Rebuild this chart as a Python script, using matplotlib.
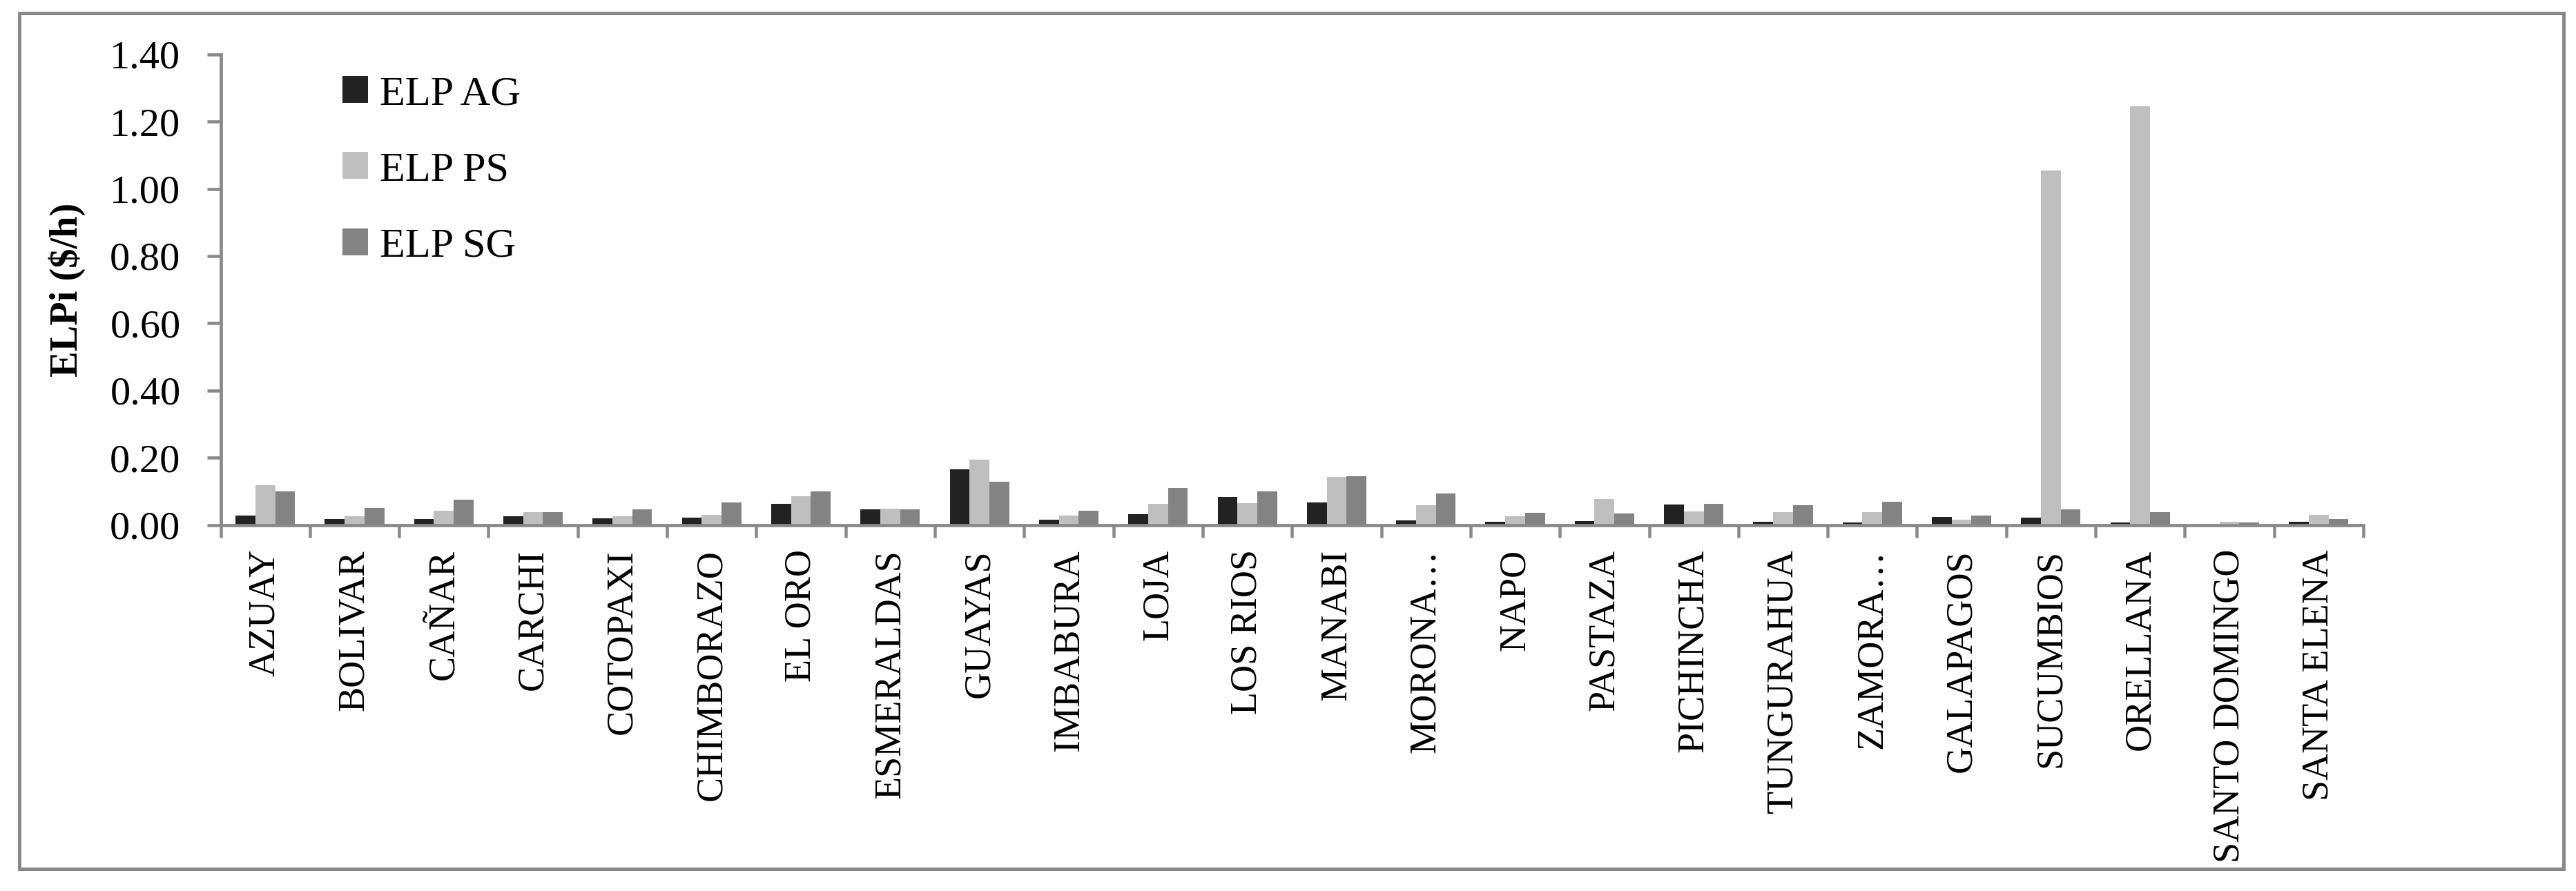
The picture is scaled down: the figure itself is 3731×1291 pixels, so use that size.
import numpy as np
import matplotlib
matplotlib.use("Agg")
import matplotlib.pyplot as plt
from matplotlib.patches import Rectangle, Patch
from matplotlib.ticker import FixedLocator

plt.rcParams['font.family'] = ['Liberation Serif', 'DejaVu Serif']

provinces = ["AZUAY", "BOLIVAR", "CAÑAR", "CARCHI", "COTOPAXI", "CHIMBORAZO",
             "EL ORO", "ESMERALDAS", "GUAYAS", "IMBABURA", "LOJA", "LOS RIOS",
             "MANABI", "MORONA…", "NAPO", "PASTAZA", "PICHINCHA", "TUNGURAHUA",
             "ZAMORA…", "GALAPAGOS", "SUCUMBIOS", "ORELLANA", "SANTO DOMINGO",
             "SANTA ELENA"]

elp_ag = [0.028, 0.017, 0.017, 0.025, 0.019, 0.021, 0.063, 0.046, 0.166, 0.015,
          0.032, 0.083, 0.067, 0.013, 0.009, 0.011, 0.060, 0.009, 0.007, 0.023,
          0.021, 0.007, 0.002, 0.009]
elp_ps = [0.118, 0.025, 0.042, 0.038, 0.025, 0.030, 0.085, 0.048, 0.194, 0.027,
          0.063, 0.065, 0.143, 0.058, 0.025, 0.077, 0.040, 0.038, 0.038, 0.015,
          1.055, 1.246, 0.009, 0.030]
elp_sg = [0.100, 0.050, 0.075, 0.038, 0.046, 0.067, 0.100, 0.046, 0.128, 0.042,
          0.110, 0.100, 0.145, 0.093, 0.036, 0.034, 0.063, 0.058, 0.069, 0.027,
          0.046, 0.038, 0.007, 0.017]

series_names = ["ELP AG", "ELP PS", "ELP SG"]
series_colors = ["#222222", "#bfbfbf", "#838383"]
y_ticks = [0.0, 0.2, 0.4, 0.6, 0.8, 1.0, 1.2, 1.4]

W, H, DPI = 3731, 1291, 300
fig = plt.figure(figsize=(W / DPI, H / DPI), dpi=DPI)
px = 72.0 / DPI  # points per pixel

ax_left, ax_right = 319.5 / W, 3423 / W
ax_bottom, ax_top = 1 - 760.5 / H, 1 - 78.8 / H
ax = fig.add_axes([ax_left, ax_bottom, ax_right - ax_left, ax_top - ax_bottom])

axis_col = "#898989"
n = len(provinces)
x = np.arange(n)
bw = 0.222
handles = []
for i, (vals, name, col) in enumerate(zip([elp_ag, elp_ps, elp_sg], series_names, series_colors)):
    ax.bar(x + (i - 1) * bw, vals, width=bw, color=col, label=name, zorder=1)
    handles.append(Patch(facecolor=col, edgecolor='none', label=name))

ax.set_xlim(-0.5, n - 0.5)
ax.set_ylim(0, 1.4)
ax.set_yticks(y_ticks)
ax.set_yticklabels([f"{v:.2f}" for v in y_ticks], fontsize=14)
ax.set_xticks(x)
ax.set_xticklabels(provinces, rotation=90, fontsize=13, va='top', ha='center')
ax.xaxis.set_minor_locator(FixedLocator(np.arange(-0.5, n, 1.0)))
ax.tick_params(axis='x', which='major', length=0, pad=(796 - 760.5) * px)
ax.tick_params(axis='x', which='minor', length=18 * px, width=4.5 * px, color=axis_col, direction='out')
ax.tick_params(axis='y', which='major', length=20 * px, width=4.5 * px, color=axis_col,
               direction='out', pad=38 * px)

for s in ['top', 'right']:
    ax.spines[s].set_visible(False)
for s in ['left', 'bottom']:
    ax.spines[s].set_color(axis_col)
    ax.spines[s].set_linewidth(4.7 * px)
    ax.spines[s].set_zorder(3)

ax.set_ylabel("ELPi ($/h)", fontsize=13.5, fontweight='bold')
ax.yaxis.set_label_coords((124 - 319.5) / (3423 - 319.5), 0.5)

leg = fig.legend(handles=handles, loc='upper left',
                 bbox_to_anchor=(496 / W, 1 - 110 / H),
                 frameon=False, fontsize=14.5, handlelength=0.62, handleheight=0.62,
                 handletextpad=0.28, labelspacing=0.93, borderpad=0, borderaxespad=0)

fig.add_artist(Rectangle((27.5 / W, 1 - 1258.5 / H), (3712.5 - 27.5) / W, (1258.5 - 18.5) / H,
                         transform=fig.transFigure, fill=False, edgecolor=axis_col,
                         linewidth=5 * px))

fig.savefig("out.png", dpi=DPI, facecolor='white')
